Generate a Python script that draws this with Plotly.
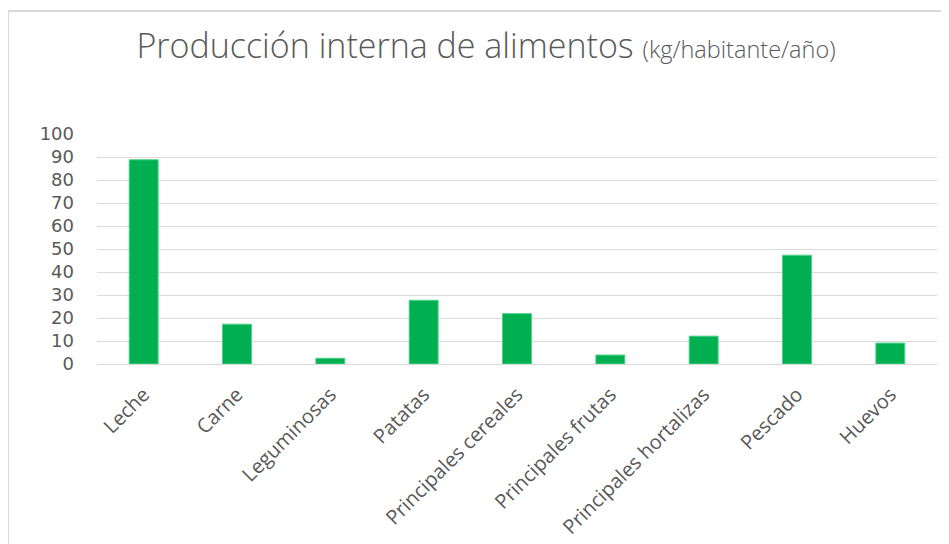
import plotly.graph_objects as go

categories = ["Leche", "Carne", "Leguminosas", "Patatas", "Principales cereales",
              "Principales frutas", "Principales hortalizas", "Pescado", "Huevos"]
values = [88.8, 17.3, 2.5, 27.7, 21.9, 3.9, 12.1, 47.3, 9.1]
y_ticks = [0, 10, 20, 30, 40, 50, 60, 70, 80, 90, 100]

GRAY = "#595959"
OFF = 8  # page body margin
W, H = 949 - OFF, 544 - OFF
L = 97 - OFF
T = 134 - OFF
R = W - (937 - OFF)
B = H - (364 - OFF)
pw, ph = W - L - R, H - T - B

fig = go.Figure(go.Bar(
    x=categories, y=values,
    marker=dict(color="#00B050", line=dict(color="#4FD08A", width=1)),
    width=0.31,
))

def px2paper_x(px):
    return (px - OFF - L) / pw

def px2paper_y(py):
    return 1 + (T - (py - OFF)) / ph

fig.update_layout(
    width=W, height=H,
    margin=dict(l=L, r=R, t=T, b=B, autoexpand=False),
    paper_bgcolor="white", plot_bgcolor="white",
    showlegend=False,
    title=dict(
        text="Producción interna de alimentos <span style='font-size:23.5px'>(kg/habitante/año)</span>",
        x=(486 - OFF) / W, xanchor="center", xref="container",
        y=1 - (46 - OFF) / H, yanchor="middle", yref="container",
        font=dict(family="Open Sans", size=34, color=GRAY, weight=300),
    ),
    xaxis=dict(
        tickangle=-45, tickfont=dict(family="Open Sans", size=20, color=GRAY),
        showgrid=False, showline=False, ticks="", ticklabelstandoff=14,
        automargin=False,
    ),
    yaxis=dict(
        range=[0, 100], tickvals=y_ticks,
        tickfont=dict(family="DejaVu Sans", size=18, color=GRAY),
        showgrid=True, gridcolor="#D9D9D9", gridwidth=1,
        zeroline=True, zerolinecolor="#D9D9D9", zerolinewidth=1,
        showline=False, ticks="", ticklabelstandoff=22,
        automargin=False,
    ),
    shapes=[
        dict(type="line", xref="paper", yref="paper",
             x0=px2paper_x(8), x1=px2paper_x(960), y0=px2paper_y(11), y1=px2paper_y(11),
             line=dict(color="#D9D9D9", width=2)),
        dict(type="line", xref="paper", yref="paper",
             x0=px2paper_x(8), x1=px2paper_x(8), y0=px2paper_y(11), y1=px2paper_y(560),
             line=dict(color="#D9D9D9", width=2)),
    ],
)

fig.write_html("out.html")
